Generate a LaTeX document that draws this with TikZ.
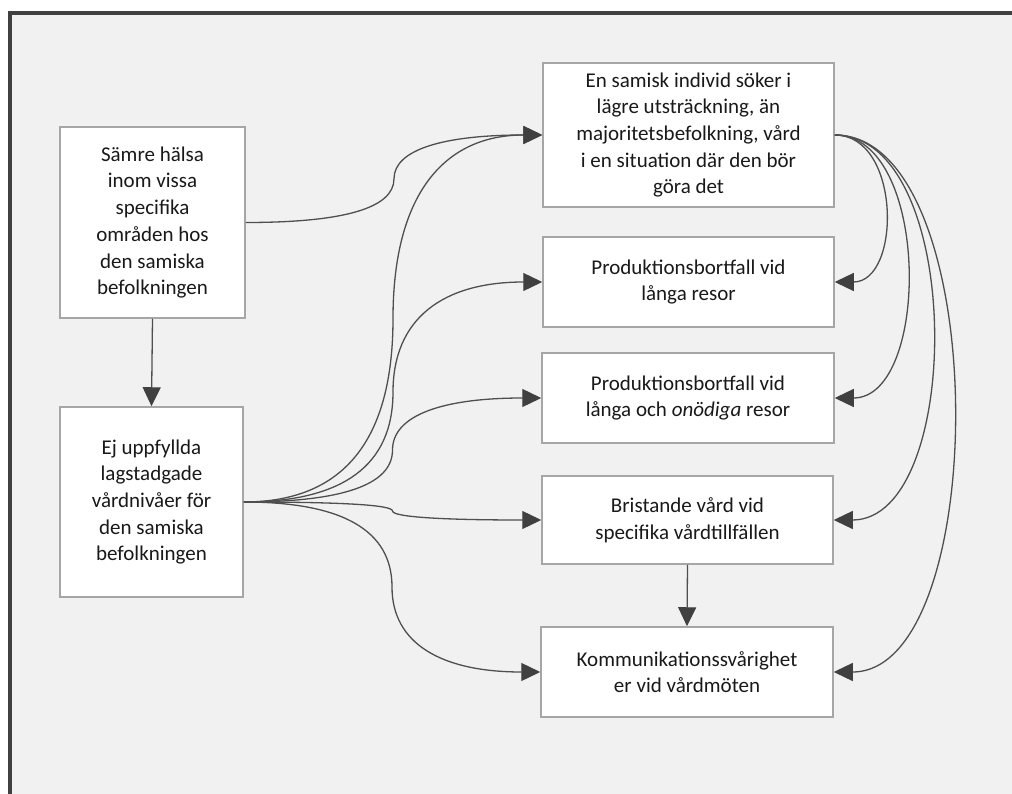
\documentclass[tikz,border=0pt]{standalone}
\usepackage{fontspec}
\setmainfont{Carlito}
\usetikzlibrary{arrows.meta,calc}
\definecolor{framec}{HTML}{404040}
\definecolor{bgc}{HTML}{F1F1F1}
\definecolor{boxline}{HTML}{A6A6A6}
\definecolor{linec}{HTML}{4F4F4F}
\definecolor{tipc}{HTML}{404040}
\tikzset{
  box/.style={draw=boxline, line width=1.5pt, fill=white, inner sep=0pt, align=center,
    font=\fontsize{21}{26.7}\selectfont, text=black!90},
  conn/.style={draw=linec, line width=1.3pt, -{Triangle[length=19pt,width=18pt,color=tipc]}},
}
% left-to-left curved connector (east of #1 to west of #2)
\newcommand\lconn[2]{%
  \path (#1.east) coordinate (p1) (#2.west) coordinate (p2);
  \path ($(p1)!0.5!(p2)$) coordinate (m);
  \draw[conn] (p1) .. controls ($(p1)!2/3!(p1 -| m)$) and ($(m)!2/3!(p1 -| m)$) .. (m)
     .. controls ($(m)!2/3!(p2 -| m)$) and ($(p2)!2/3!(p2 -| m)$) .. (p2);
}
% same-side connector (east of #1 to east of #2), bulging to about #3
\newcommand\rconn[3]{%
  \draw[conn] (#1.east) .. controls +(#3/0.75,0) and +(#3/0.75,0) .. (#2.east);
}
\begin{document}
\begin{tikzpicture}[x=1pt,y=-1pt]
\useasboundingbox (0,0) rectangle (1012,794);
\fill[white] (0,0) rectangle (1012,794);
\fill[bgc] (10,13) rectangle (1014,796);
\draw[framec, line width=3.5pt] (10,796) -- (10,13) -- (1014,13);

\node[box, minimum width=185pt, minimum height=191pt] (A) at (152.5,222.5)
  {Sämre hälsa\\inom vissa\\specifika\\områden hos\\den samiska\\befolkningen};
\node[box, minimum width=183pt, minimum height=190pt] (B) at (151.5,502)
  {Ej uppfyllda\\lagstadgade\\vårdnivåer för\\den samiska\\befolkningen};
\node[box, minimum width=291pt, minimum height=144pt] (C) at (688.5,135)
  {En samisk individ söker i\\lägre utsträckning, än\\majoritetsbefolkning, vård\\i en situation där den bör\\göra det};
\node[box, minimum width=291pt, minimum height=90pt] (D) at (688.5,282)
  {Produktionsbortfall vid\\långa resor};
\node[box, minimum width=292pt, minimum height=90pt] (E) at (688,398)
  {Produktionsbortfall vid\\långa och \textit{onödiga} resor};
\node[box, minimum width=291pt, minimum height=88pt] (F) at (687.5,520)
  {Bristande vård vid\\specifika vårdtillfällen};
\node[box, minimum width=292pt, minimum height=90pt] (G) at (687,672)
  {Kommunikationssvårighet\\er vid vårdmöten};

\draw[conn] (A.south) -- (B.north);
\draw[conn] (F.south) -- (G.north);

\lconn{A}{C}
\lconn{B}{C}
\lconn{B}{D}
\lconn{B}{E}
\lconn{B}{F}
\lconn{B}{G}

\rconn{C}{D}{50}
\rconn{C}{E}{72}
\rconn{C}{F}{98}
\rconn{C}{G}{119}
\end{tikzpicture}
\end{document}
